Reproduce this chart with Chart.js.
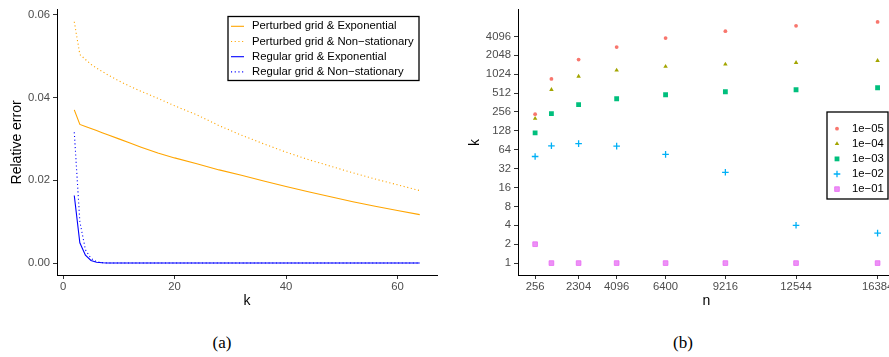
<!DOCTYPE html>
<html>
<head>
<meta charset="utf-8">
<script src="https://cdn.jsdelivr.net/npm/chart.js@4.4.1/dist/chart.umd.min.js"></script>
<style>
  html, body { margin: 0; padding: 0; width: 889px; height: 357px; overflow: hidden; background: #fff; }
  .panel { position: absolute; top: 0; height: 320px; }
  #wrapA { left: 0; width: 440px; }
  #wrapB { left: 440px; width: 460px; }
  .caption { position: absolute; top: 333px; font-family: 'Liberation Serif', 'DejaVu Serif', serif; font-size: 17px; color: #000; transform: translateX(-50%); }
</style>
</head>
<body>
<div class="panel" id="wrapA"><canvas id="chartA" width="440" height="320"></canvas></div>
<div class="panel" id="wrapB"><canvas id="chartB" width="460" height="320"></canvas></div>
<div class="caption" style="left:222px">(a)</div>
<div class="caption" style="left:683px">(b)</div>
<script>
// --- data, panel (a) ---
const kValues          = [2, 3, 4, 5, 6, 7, 8, 10, 12, 14, 17, 20, 24, 28, 32, 36, 40, 44, 48, 52, 56, 60, 64];
const perturbedExp     = [0.0370, 0.0335, 0.0330, 0.0325, 0.0320, 0.0315, 0.0310, 0.0300, 0.0290, 0.0280, 0.0266, 0.0254, 0.0240, 0.0225, 0.0212, 0.0198, 0.0185, 0.0172, 0.0160, 0.0148, 0.0137, 0.0127, 0.0117];
const perturbedNonstat = [0.0583, 0.0504, 0.0492, 0.0480, 0.0471, 0.0463, 0.0455, 0.0440, 0.0427, 0.0415, 0.0398, 0.0380, 0.0358, 0.0332, 0.0309, 0.0288, 0.0268, 0.0250, 0.0234, 0.0218, 0.0203, 0.0189, 0.0175];
const regularExp       = [0.0163, 0.0049, 0.0019, 0.0006, 0.0002, 0.00005, 0, 0, 0, 0, 0, 0, 0, 0, 0, 0, 0, 0, 0, 0, 0, 0, 0];
const regularNonstat   = [0.0316, 0.0100, 0.0032, 0.0011, 0.0003, 0.0001, 0, 0, 0, 0, 0, 0, 0, 0, 0, 0, 0, 0, 0, 0, 0, 0, 0];
const kTicksA   = [0, 20, 40, 60];
const errTicksA = [0, 0.02, 0.04, 0.06];

// --- data, panel (b) ---
const nValues = [256, 1024, 2304, 4096, 6400, 9216, 12544, 16384];
const tol1e05 = [236, 862, 1748, 2766, 3850, 4960, 6030, 6980];
const tol1e04 = [201, 579, 942, 1184, 1355, 1475, 1566, 1686];
const tol1e03 = [119, 241, 335, 416, 482, 537, 578, 622];
const tol1e02 = [50, 74, 80, 73, 54, 28, 4, 3];
const tol1e01 = [2, 1, 1, 1, 1, 1, 1, 1];
const nTicksB = [256, 2304, 4096, 6400, 9216, 12544, 16384];
const kTicksB = [1, 2, 4, 8, 16, 32, 64, 128, 256, 512, 1024, 2048, 4096];

Chart.defaults.font.family = "'Liberation Sans', Arial, sans-serif";
Chart.defaults.color = '#4d4d4d';

const toXY = (xs, ys) => xs.map((x, i) => ({ x: x, y: ys[i] }));

// legend in a black box, drawn where the ggplot one sits
const boxLegend = {
  id: 'boxLegend',
  afterDraw(chart, args, o) {
    const ctx = chart.ctx;
    ctx.save();
    ctx.fillStyle = '#fff';
    ctx.fillRect(o.x, o.y, o.w, o.h);
    ctx.lineWidth = 1.3;
    ctx.strokeStyle = '#000';
    ctx.strokeRect(o.x, o.y, o.w, o.h);
    ctx.font = "11.3px 'Liberation Sans', Arial, sans-serif";
    ctx.textBaseline = 'middle';
    chart.data.datasets.forEach((ds, i) => {
      const cy = o.firstRow + i * o.rowGap;
      ctx.save();
      if (o.sample === 'line') {
        ctx.strokeStyle = ds.borderColor;
        ctx.lineWidth = ds.borderWidth;
        ctx.setLineDash(ds.borderDash || []);
        ctx.beginPath();
        ctx.moveTo(o.keyX, cy);
        ctx.lineTo(o.keyX + o.keyW, cy);
        ctx.stroke();
      } else {
        ctx.fillStyle = ds.backgroundColor;
        ctx.strokeStyle = ds.borderColor;
        ctx.lineWidth = ds.borderWidth;
        Chart.helpers.drawPoint(ctx, { pointStyle: ds.pointStyle, radius: ds.pointRadius, rotation: 0, borderWidth: ds.borderWidth }, o.keyX, cy);
      }
      ctx.restore();
      ctx.fillStyle = '#000';
      ctx.fillText(ds.label, o.textX, cy);
    });
    ctx.restore();
  }
};

const gridOff = { drawOnChartArea: false, tickLength: 4, tickColor: '#333', tickWidth: 1 };
const axisLine = { display: true, color: '#000', width: 1 };

// A. relative error vs k
new Chart(document.getElementById('chartA'), {
  type: 'line',
  data: {
    datasets: [
      { label: 'Perturbed grid & Exponential', data: toXY(kValues, perturbedExp), borderColor: '#FFA500', borderWidth: 1.1 },
      { label: 'Perturbed grid & Non\u2212stationary', data: toXY(kValues, perturbedNonstat), borderColor: '#FFA500', borderWidth: 1.1, borderDash: [1.1, 2.6] },
      { label: 'Regular grid & Exponential', data: toXY(kValues, regularExp), borderColor: '#0000FF', borderWidth: 1.1 },
      { label: 'Regular grid & Non\u2212stationary', data: toXY(kValues, regularNonstat), borderColor: '#0000FF', borderWidth: 1.1, borderDash: [1.1, 2.6] }
    ]
  },
  options: {
    responsive: false,
    animation: false,
    layout: { padding: { left: 0, right: 3, top: 8, bottom: 0 } },
    elements: { point: { radius: 0 }, line: { tension: 0, fill: false } },
    plugins: {
      legend: { display: false },
      tooltip: { enabled: false },
      boxLegend: { x: 228, y: 16.5, w: 191, h: 64, firstRow: 26.3, rowGap: 15.2, sample: 'line', keyX: 231, keyW: 13, textX: 252 }
    },
    scales: {
      x: {
        type: 'linear', min: -1.1, max: 67.1, bounds: 'data',
        afterBuildTicks: s => { s.ticks = kTicksA.map(v => ({ value: v })); },
        afterFit: s => { s.height = 45; },
        grid: gridOff, border: axisLine,
        ticks: { font: { size: 11.3 }, padding: 1, autoSkip: false, maxRotation: 0 },
        title: { display: true, text: 'k', color: '#000', font: { size: 14 }, padding: { top: 0, bottom: 10 } }
      },
      y: {
        type: 'linear', min: -0.0029, max: 0.0612, bounds: 'data',
        afterBuildTicks: s => { s.ticks = errTicksA.map(v => ({ value: v })); },
        afterFit: s => { s.width = 57; },
        grid: gridOff, border: axisLine,
        ticks: { font: { size: 11.3 }, padding: 3, callback: v => v.toFixed(2) },
        title: { display: true, text: 'Relative error', color: '#000', font: { size: 14 }, padding: { top: 9, bottom: 0 } }
      }
    }
  },
  plugins: [boxLegend]
});

// B. k vs n, log2 axis
new Chart(document.getElementById('chartB'), {
  type: 'scatter',
  data: {
    datasets: [
      { label: '1e\u221205', data: toXY(nValues, tol1e05), pointStyle: 'circle', pointRadius: 1.9, backgroundColor: '#F8766D', borderColor: '#F8766D', borderWidth: 0 },
      { label: '1e\u221204', data: toXY(nValues, tol1e04), pointStyle: 'triangle', pointRadius: 2.6, backgroundColor: '#A3A500', borderColor: '#A3A500', borderWidth: 0 },
      { label: '1e\u221203', data: toXY(nValues, tol1e03), pointStyle: 'rect', pointRadius: 3.4, backgroundColor: '#00BF7D', borderColor: '#00BF7D', borderWidth: 0 },
      { label: '1e\u221202', data: toXY(nValues, tol1e02), pointStyle: 'cross', pointRadius: 3.3, backgroundColor: '#00B0F6', borderColor: '#00B0F6', borderWidth: 1.3 },
      { label: '1e\u221201', data: toXY(nValues, tol1e01), pointStyle: 'rect', pointRadius: 3.3, backgroundColor: 'rgba(231,107,243,0.75)', borderColor: '#E76BF3', borderWidth: 0.8 }
    ]
  },
  options: {
    responsive: false,
    animation: false,
    layout: { padding: { left: 0, right: 3.8, top: 8, bottom: 0 } },
    plugins: {
      legend: { display: false },
      tooltip: { enabled: false },
      boxLegend: { x: 387, y: 112, w: 61, h: 87, firstRow: 128.7, rowGap: 15.1, sample: 'point', keyX: 397, textX: 412 }
    },
    scales: {
      x: {
        type: 'linear', min: -550, max: 17190, bounds: 'data',
        afterBuildTicks: s => { s.ticks = nTicksB.map(v => ({ value: v })); },
        afterFit: s => { s.height = 45; },
        grid: gridOff, border: axisLine,
        ticks: { font: { size: 11.3 }, padding: 1, autoSkip: false, maxRotation: 0, callback: v => String(v) },
        title: { display: true, text: 'n', color: '#000', font: { size: 14 }, padding: { top: 0, bottom: 10 } }
      },
      y: {
        type: 'logarithmic', min: 0.646, max: 10880, bounds: 'data',
        afterBuildTicks: s => { s.ticks = kTicksB.map(v => ({ value: v })); },
        afterFit: s => { s.width = 78; },
        grid: gridOff, border: axisLine,
        ticks: { font: { size: 11.3 }, padding: 3, autoSkip: false, callback: v => String(v) },
        title: { display: true, text: 'k', color: '#000', font: { size: 14 }, padding: { top: 26.6, bottom: 0 } }
      }
    }
  },
  plugins: [boxLegend]
});
</script>
</body>
</html>
